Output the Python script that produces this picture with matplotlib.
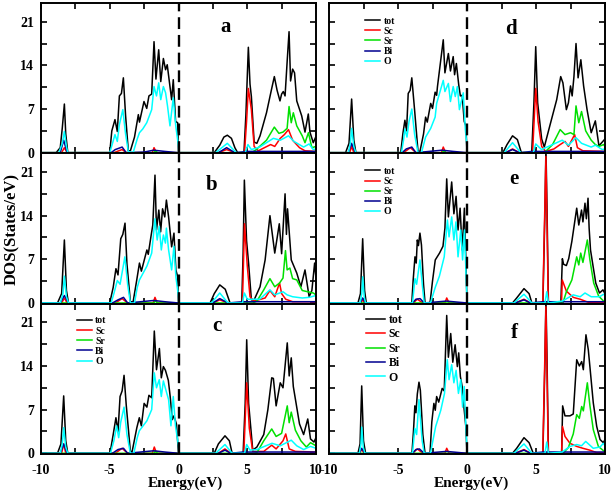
import numpy as np
import matplotlib.pyplot as plt
from matplotlib.ticker import MultipleLocator

# partial DOS, (energy eV, states/eV) pairs
species = ["tot", "Sc", "Sr", "Bi", "O"]

a_tot = [(-10, 0), (-8.9, 0), (-8.6, 0.8), (-8.45, 4), (-8.3, 7.8), (-8.2, 3), (-8.05, 0), (-5.0, 0), (-4.85, 3.5),
         (-4.62, 5.3), (-4.45, 3.4), (-4.3, 9.1), (-4.15, 9.5), (-4.01, 12.0), (-3.85, 6), (-3.65, 0.3), (-3.5, 0.3),
         (-3.2, 2.5), (-2.92, 6.1), (-2.84, 4.9), (-2.51, 8.2), (-2.31, 7.1), (-2.15, 9.1), (-1.95, 9.4), (-1.78, 17.8),
         (-1.64, 11.8), (-1.44, 16.5), (-1.29, 11.4), (-1.1, 15.1), (-0.94, 13.3), (-0.82, 14.1), (-0.62, 10.6),
         (-0.5, 8.5), (-0.38, 11.7), (-0.21, 5.0), (-0.06, 4.8), (0, 0), (2.6, 0), (3.0, 1.2), (3.3, 2.5), (3.55, 2.8),
         (3.85, 2.3), (4.1, 0.8), (4.3, 0), (4.76, 0), (4.9, 6), (5.08, 16.9), (5.2, 11), (5.3, 9), (5.5, 1.7),
         (5.7, 1.5), (5.93, 2.7), (6.4, 6.4), (6.75, 10), (6.97, 12.2), (7.17, 10), (7.38, 8.3), (7.5, 9.4),
         (7.62, 9.8), (7.75, 9.1), (7.91, 14.9), (8.04, 19.4), (8.15, 11.5), (8.3, 13.4), (8.44, 12.8), (8.6, 8.3),
         (8.96, 5.9), (9.2, 3.3), (9.44, 6.2), (9.56, 3.3), (9.8, 1.6), (10, 2.6)]
a_sc = [(-10, 0), (-8.5, 0), (-8.3, 0.8), (-8.1, 0), (-4.7, 0), (-4.1, 0.5), (-3.8, 0), (-1.9, 0), (-1.78, 0.8),
        (-1.6, 0), (2.9, 0), (3.5, 0.5), (4.1, 0), (4.8, 0), (4.95, 5), (5.08, 10.3), (5.3, 6.9), (5.5, 1.0),
        (5.8, 0.3), (6.7, 1.3), (7.0, 1.0), (7.4, 2.3), (7.7, 2.9), (8.0, 3.7), (8.3, 2.0), (8.8, 0.8), (9.2, 0.3),
        (10, 0.2)]
a_sr = [(-10, 0), (-1.8, 0), (-1.7, 0.3), (-1.5, 0), (5.3, 0), (5.6, 0.4), (6.0, 1.2), (6.4, 2.0), (6.97, 4.1),
        (7.3, 3.1), (7.6, 3.3), (7.9, 3.9), (8.04, 7.4), (8.2, 4.8), (8.35, 6.4), (8.6, 4.3), (9.0, 2.7), (9.2, 1.6),
        (9.45, 3.2), (9.7, 0.8), (10, 1.0)]
a_bi = [(-10, 0), (-8.6, 0), (-8.35, 2.0), (-8.1, 0), (-4.9, 0), (-4.6, 0.5), (-4.1, 0.9), (-3.8, 0), (-2.5, 0.1),
        (-1.8, 0.4), (-1.0, 0.2), (0, 0), (2.9, 0), (3.5, 0.8), (4.1, 0), (5.0, 0.2), (10, 0.2)]
a_o = [(-10, 0), (-8.7, 0), (-8.45, 1.5), (-8.3, 3.4), (-8.15, 1), (-8.05, 0), (-5.0, 0), (-4.8, 1.5), (-4.62, 2.9),
       (-4.45, 1.8), (-4.3, 4.5), (-4.05, 6.9), (-3.85, 3), (-3.65, 0.2), (-3.3, 0), (-3.0, 2.2), (-2.84, 3.2),
       (-2.6, 3.8), (-2.31, 4.8), (-1.95, 6.9), (-1.78, 10.6), (-1.6, 9.1), (-1.44, 11.2), (-1.29, 8.5), (-1.1, 10.6),
       (-0.94, 9.6), (-0.8, 7.5), (-0.62, 4.3), (-0.38, 8.8), (-0.2, 4.3), (0, 1.0), (0.02, 0), (2.7, 0), (3.55, 1.5),
       (4.2, 0), (4.85, 0), (5.05, 1.3), (5.3, 0.5), (5.9, 0.9), (6.9, 2.3), (7.4, 2.0), (8.0, 2.7), (8.4, 1.8),
       (9.1, 0.9), (9.5, 1.4), (9.8, 0.5), (10, 0.6)]

b_tot = [(-10, 0), (-8.8, 0), (-8.5, 1.5), (-8.3, 10.1), (-8.15, 2), (-8.0, 0), (-5.0, 0), (-4.75, 2.5), (-4.55, 5.5),
         (-4.4, 4.5), (-4.2, 10.3), (-4.05, 11), (-3.89, 12.8), (-3.75, 6.3), (-3.5, 0.2), (-3.3, 0.2), (-3.05, 3.5),
         (-2.84, 6.4), (-2.7, 5.1), (-2.3, 8.5), (-2.2, 7.8), (-2.0, 10.7), (-1.87, 12.5), (-1.71, 20.5), (-1.6, 11.7),
         (-1.43, 14.9), (-1.3, 11.4), (-1.16, 15.1), (-1.0, 13.8), (-0.88, 16.5), (-0.72, 13.8), (-0.5, 9.0),
         (-0.33, 11.2), (-0.19, 5.3), (-0.06, 4.2), (0, 0), (2.3, 0), (2.6, 1.5), (3.0, 2.9), (3.4, 2.2), (3.75, 0),
         (4.6, 0), (4.7, 8), (4.79, 19.7), (4.95, 10), (5.1, 6.3), (5.3, 0.5), (5.5, 0.5), (5.93, 2.6), (6.3, 6.9),
         (6.65, 14.0), (7.0, 8.0), (7.15, 10.1), (7.33, 12.7), (7.5, 7.9), (7.75, 17.5), (7.85, 11), (7.93, 15.1),
         (8.2, 6.9), (8.6, 4.8), (8.9, 2.6), (9.2, 5.3), (9.5, 1.0), (9.7, 2.0), (9.9, 6.4), (10, 4)]
b_sc = [(-10, 0), (-8.5, 0), (-8.3, 0.8), (-8.1, 0), (-4.6, 0), (-4.1, 0.7), (-3.7, 0), (-1.85, 0), (-1.71, 0.9),
        (-1.55, 0), (2.5, 0), (3.0, 0.5), (3.6, 0), (4.65, 0), (4.8, 12.7), (5.0, 6), (5.2, 1.0), (5.5, 0.3),
        (6.3, 0.8), (6.65, 2.0), (7.0, 1.0), (7.35, 3.2), (7.5, 1.5), (7.8, 0.6), (8.3, 0.2), (10, 0.2)]
b_sr = [(-10, 0), (-1.8, 0), (-1.7, 0.3), (-1.5, 0), (5.4, 0), (5.7, 0.3), (6.2, 2.1), (6.65, 3.9), (7.0, 2.6),
        (7.35, 3.2), (7.6, 4), (7.78, 8.4), (7.9, 5.3), (8.1, 5.6), (8.3, 3.9), (8.6, 3.7), (9.0, 2.0), (9.4, 1.8),
        (9.8, 1.6), (10, 1.3)]
b_bi = [(-10, 0), (-8.6, 0), (-8.3, 1.2), (-8.0, 0), (-4.8, 0), (-4.4, 0.5), (-4.0, 0.9), (-3.7, 0), (-1.8, 0.4),
        (-1.0, 0.2), (0, 0), (2.5, 0), (3.0, 0.7), (3.6, 0), (4.7, 0.2), (10, 0.2)]
b_o = [(-10, 0), (-8.6, 0), (-8.4, 1.5), (-8.3, 4.3), (-8.15, 1), (-8.0, 0), (-4.9, 0), (-4.7, 1.5), (-4.45, 3.6),
       (-4.25, 3), (-3.9, 7.4), (-3.7, 3), (-3.5, 0), (-3.2, 0), (-3.0, 2.5), (-2.84, 3.7), (-2.3, 5.9), (-1.95, 8.0),
       (-1.71, 13.5), (-1.55, 10.1), (-1.4, 12.3), (-1.25, 8.5), (-1.1, 10.9), (-0.95, 9.6), (-0.88, 12.0),
       (-0.72, 8.5), (-0.5, 5.3), (-0.33, 9.1), (-0.19, 4.2), (0, 1.0), (0.02, 0), (2.4, 0), (3.0, 1.6), (3.6, 0),
       (4.65, 0), (4.79, 1.6), (5.0, 0.6), (5.9, 0.6), (6.65, 2.1), (7.0, 1.3), (7.6, 1.8), (7.9, 1.3), (8.3, 1.0),
       (9.0, 0.8), (9.5, 0.9), (10, 1.2)]

c_tot = [(-10, 0), (-8.8, 0), (-8.55, 1.5), (-8.35, 9.2), (-8.2, 2), (-8.05, 0), (-4.98, 0), (-4.75, 3), (-4.55, 5.7),
         (-4.4, 3.5), (-4.25, 9.1), (-4.1, 10), (-3.96, 12.5), (-3.8, 7.7), (-3.5, 0.3), (-3.37, 0.3), (-3.03, 4.1),
         (-2.85, 5.7), (-2.7, 4.4), (-2.5, 8.0), (-2.3, 7.4), (-2.15, 9.3), (-1.95, 8.9), (-1.76, 19.6), (-1.6, 13.4),
         (-1.39, 16.8), (-1.25, 12.1), (-1.1, 13.9), (-0.95, 13.3), (-0.74, 11.7), (-0.6, 9.0), (-0.45, 5.4),
         (-0.33, 6.0), (-0.15, 4.7), (0, 0), (2.6, 0), (2.9, 1.5), (3.38, 2.8), (3.7, 2.0), (3.9, 0), (4.7, 0),
         (4.85, 8), (4.96, 18.2), (5.1, 8), (5.4, 0.5), (5.7, 1.0), (6.2, 3.0), (6.5, 7.0), (6.78, 12.1), (6.9, 12.0),
         (7.1, 7.6), (7.4, 11.3), (7.6, 10.5), (7.91, 17.7), (8.05, 12.4), (8.2, 15.3), (8.35, 10.7), (8.8, 4.7),
         (9.1, 3.0), (9.4, 5.5), (9.6, 2.3), (9.85, 1.8), (10, 2.5)]
c_sc = [(-10, 0), (-8.5, 0), (-8.35, 1.5), (-8.2, 0), (-4.6, 0), (-4.1, 0.8), (-3.7, 0), (-1.9, 0), (-1.76, 1.0),
        (-1.6, 0), (2.9, 0), (3.38, 0.7), (3.8, 0), (4.75, 0), (4.96, 11.3), (5.15, 4), (5.4, 0.3), (6.2, 0.3),
        (6.78, 1.3), (7.1, 0.7), (7.6, 2.0), (7.8, 3.1), (8.05, 0.7), (8.5, 0.3), (10, 0.2)]
c_sr = [(-10, 0), (-1.8, 0), (-1.7, 0.3), (-1.5, 0), (5.5, 0), (5.7, 0.1), (6.2, 2.0), (6.78, 3.9), (7.1, 2.7),
        (7.5, 3.2), (7.91, 7.6), (8.05, 4.9), (8.2, 6.6), (8.5, 3.7), (8.9, 2.0), (9.3, 1.0), (9.6, 1.7), (10, 1.2)]
c_bi = [(-10, 0), (-8.6, 0), (-8.35, 1.5), (-8.1, 0), (-4.8, 0), (-4.4, 0.6), (-4.0, 0.8), (-3.7, 0), (-1.8, 0.4),
        (-1.0, 0.2), (0, 0), (2.9, 0), (3.38, 0.5), (3.8, 0), (4.7, 0.2), (10, 0.2)]
c_o = [(-10, 0), (-8.6, 0), (-8.45, 1.5), (-8.35, 4.1), (-8.2, 1), (-8.05, 0), (-4.95, 0), (-4.7, 2), (-4.5, 4.4),
       (-4.35, 2.5), (-4.2, 5), (-3.96, 7.4), (-3.75, 3), (-3.5, 0), (-3.25, 0), (-3.0, 2.5), (-2.85, 3.6),
       (-2.3, 5.2), (-1.95, 7.0), (-1.76, 12.9), (-1.6, 10.5), (-1.4, 11.8), (-1.25, 9.1), (-1.1, 11.6), (-0.9, 10.0),
       (-0.72, 8.6), (-0.55, 4.4), (-0.38, 9.1), (-0.22, 4.4), (0, 1.2), (0.02, 0), (2.7, 0), (3.38, 1.4), (3.9, 0),
       (4.8, 0), (4.96, 1.4), (5.2, 0.5), (5.7, 0.6), (6.8, 1.6), (7.4, 1.2), (8.2, 2.1), (8.6, 1.2), (9.1, 0.6),
       (9.6, 1.1), (10, 0.8)]

d_tot = [(-10, 0), (-8.8, 0), (-8.55, 1.5), (-8.36, 8.6), (-8.2, 2), (-8.05, 0), (-4.8, 0), (-4.65, 3), (-4.5, 5.2),
         (-4.38, 3.5), (-4.26, 9.5), (-4.12, 10), (-4.0, 12.0), (-3.8, 6.9), (-3.55, 0.2), (-3.41, 0.2), (-3.15, 3),
         (-3.0, 5.7), (-2.88, 4.9), (-2.63, 7.9), (-2.5, 7.1), (-2.31, 9.7), (-2.2, 9.2), (-2.14, 10.6), (-1.72, 18.1),
         (-1.6, 12.8), (-1.35, 15.9), (-1.2, 13.1), (-1.0, 15.4), (-0.9, 12.5), (-0.77, 14.3), (-0.6, 10.9),
         (-0.48, 9.1), (-0.35, 9.2), (-0.2, 5.0), (-0.08, 4.3), (0, 0), (2.6, 0), (2.9, 1.3), (3.3, 2.7), (3.65, 2.1),
         (3.94, 0), (4.69, 0), (4.85, 8), (4.98, 17.0), (5.12, 8.0), (5.41, 2.2), (5.6, 0.9), (6.0, 4.3), (6.5, 8.5),
         (6.79, 12.2), (6.95, 11.2), (7.2, 6.9), (7.35, 8.0), (7.5, 10.7), (7.62, 9.1), (7.75, 12.2), (7.9, 17.5),
         (8.05, 12), (8.25, 14.9), (8.45, 10.7), (8.7, 6.9), (9.0, 3.2), (9.3, 5.1), (9.56, 1.1), (9.8, 1.7),
         (10, 2.2)]
d_sc = [(-10, 0), (-8.5, 0), (-8.36, 1.0), (-8.2, 0), (-4.6, 0), (-4.1, 0.8), (-3.7, 0), (-1.85, 0), (-1.72, 0.9),
        (-1.55, 0), (2.8, 0), (3.3, 0.6), (3.8, 0), (4.75, 0), (4.98, 10.3), (5.15, 5), (5.41, 1.0), (5.7, 0.2),
        (6.3, 0.6), (6.75, 1.3), (7.1, 1.8), (7.35, 1.0), (7.8, 2.9), (8.0, 0.8), (8.4, 0.3), (10, 0.2)]
d_sr = [(-10, 0), (-1.8, 0), (-1.7, 0.3), (-1.5, 0), (5.5, 0), (5.7, 0.2), (6.2, 1.3), (6.75, 3.7), (7.1, 2.9),
        (7.5, 3.2), (7.75, 2.9), (7.9, 7.5), (8.1, 4.8), (8.3, 6.6), (8.6, 3.5), (9.0, 2.0), (9.3, 1.3), (9.56, 1.0),
        (9.9, 1.3), (10, 1.0)]
d_bi = [(-10, 0), (-8.6, 0), (-8.36, 1.5), (-8.1, 0), (-4.7, 0), (-4.4, 0.6), (-4.0, 0.9), (-3.7, 0), (-1.8, 0.4),
        (-1.0, 0.2), (0, 0), (2.8, 0), (3.3, 0.5), (3.8, 0), (4.7, 0.2), (10, 0.2)]
d_o = [(-10, 0), (-8.6, 0), (-8.45, 1.5), (-8.36, 3.9), (-8.2, 1), (-8.05, 0), (-4.75, 0), (-4.6, 2), (-4.5, 3.8),
       (-4.35, 2.5), (-4.2, 5), (-4.0, 7.0), (-3.8, 3), (-3.55, 0), (-3.3, 0), (-3.0, 2.5), (-2.63, 3.9),
       (-2.31, 5.7), (-2.2, 7.9), (-1.72, 11.6), (-1.6, 9.8), (-1.35, 11.1), (-1.2, 8.2), (-1.0, 10.6), (-0.85, 9.0),
       (-0.7, 10.6), (-0.55, 6.9), (-0.27, 9.6), (-0.12, 3.7), (0, 1.0), (0.02, 0), (2.7, 0), (3.3, 1.6), (3.9, 0),
       (4.8, 0), (4.98, 1.4), (5.4, 0.5), (6.5, 1.6), (6.9, 2.0), (7.35, 1.2), (7.9, 2.4), (8.3, 1.5), (9.0, 0.9),
       (9.3, 1.2), (9.8, 0.5), (10, 0.6)]

e_tot = [(-10, 0), (-7.9, 0), (-7.72, 1.5), (-7.56, 10.3), (-7.42, 2), (-7.3, 0), (-4.0, 0), (-3.9, 3.7),
         (-3.77, 7.4), (-3.68, 6.4), (-3.6, 10.1), (-3.52, 9.2), (-3.41, 11.2), (-3.3, 9.3), (-3.15, 3), (-3.04, 0),
         (-2.68, 0), (-2.5, 3.5), (-2.3, 6.9), (-1.99, 8.0), (-1.74, 9.1), (-1.6, 12), (-1.47, 19.9), (-1.35, 13.8),
         (-1.11, 19.4), (-0.95, 14.3), (-0.79, 17.1), (-0.65, 11.7), (-0.5, 15.2), (-0.35, 8.5), (-0.19, 15.2),
         (-0.08, 6.9), (0, 0), (3.3, 0), (3.6, 0.8), (4.13, 2.3), (4.5, 1.5), (4.7, 0), (5.5, 0), (5.65, 15),
         (5.72, 25), (5.8, 15), (5.9, 0), (6.8, 0), (6.91, 7.1), (7.0, 6.2), (7.2, 6.0), (7.37, 7.1), (7.6, 9.9),
         (7.95, 15.2), (8.1, 12.5), (8.3, 14.9), (8.4, 13), (8.55, 16.0), (8.65, 13.5), (8.77, 16.8), (8.85, 12),
         (8.95, 8.5), (9.1, 6.4), (9.33, 3.2), (9.6, 1.6), (9.85, 2.1), (10, 1.5)]
e_sc = [(-10, 0), (-7.7, 0), (-7.56, 0.5), (-7.4, 0), (-3.9, 0), (-3.6, 0.6), (-3.2, 0), (-1.6, 0), (-1.47, 0.8),
        (-1.3, 0), (3.5, 0), (4.13, 0.6), (4.6, 0), (5.49, 0), (5.72, 23.5), (5.89, 0), (6.85, 0), (6.9, 3.7),
        (7.2, 1.9), (7.7, 0.9), (8.2, 0.6), (8.8, 0.1), (10, 0.1)]
e_sr = [(-10, 0), (6.95, 0), (7.2, 1.8), (7.6, 3.7), (7.95, 7.4), (8.1, 6.1), (8.24, 8.0), (8.4, 6.5), (8.72, 10.1),
        (8.9, 7.0), (9.18, 3.2), (9.54, 1.1), (9.9, 0.3), (10, 0.3)]
e_bi = [(-10, 0), (-7.75, 0), (-7.56, 0.8), (-7.35, 0), (-3.95, 0), (-3.7, 0.6), (-3.4, 0.7), (-3.1, 0), (-1.5, 0.3),
        (-1.0, 0.2), (0, 0), (3.5, 0), (4.13, 0.5), (4.6, 0), (5.5, 0.2), (10, 0.2)]
e_o = [(-10, 0), (-7.75, 0), (-7.62, 1.5), (-7.56, 4.2), (-7.45, 1), (-7.35, 0), (-3.95, 0), (-3.77, 3.9),
       (-3.65, 3), (-3.41, 6.9), (-3.2, 2), (-3.1, 0), (-2.65, 0), (-2.3, 2.5), (-2.0, 4.3), (-1.65, 7.4),
       (-1.42, 13.3), (-1.3, 10.6), (-1.11, 13.8), (-0.95, 10.1), (-0.8, 13.0), (-0.65, 7.4), (-0.45, 11.7),
       (-0.32, 6.9), (-0.18, 11.7), (-0.05, 3.2), (0, 0.5), (0.02, 0), (3.4, 0), (4.13, 1.4), (4.7, 0), (5.65, 0),
       (5.78, 1.8), (5.9, 0), (6.9, 0.3), (7.7, 1.3), (8.2, 1.0), (8.55, 1.6), (9.0, 1.0), (9.6, 1.0), (9.9, 1.4),
       (10, 1.2)]

f_tot = [(-10, 0), (-7.9, 0), (-7.75, 1.5), (-7.63, 10.8), (-7.5, 2), (-7.35, 0), (-3.99, 0), (-3.88, 3.5),
         (-3.78, 7.6), (-3.7, 6.5), (-3.6, 9.5), (-3.48, 11.4), (-3.38, 10.1), (-3.2, 3), (-3.04, 0), (-2.68, 0),
         (-2.55, 5), (-2.4, 8.0), (-2.3, 6.9), (-2.2, 9.1), (-2.05, 8.2), (-1.8, 10.4), (-1.65, 10.0), (-1.47, 22.1),
         (-1.35, 15.4), (-1.18, 19.2), (-1.03, 14.6), (-0.86, 17.4), (-0.7, 13.9), (-0.6, 16.1), (-0.48, 12.3),
         (-0.35, 10.7), (-0.2, 6.9), (-0.08, 4.2), (0, 0), (3.3, 0), (3.6, 0.8), (4.13, 2.5), (4.5, 1.7), (4.8, 0),
         (5.5, 0), (5.65, 15), (5.72, 25), (5.8, 15), (5.9, 0), (6.86, 0), (6.93, 7.6), (7.1, 6.0), (7.46, 6.0),
         (7.7, 6.3), (7.95, 15.0), (8.14, 14.0), (8.31, 14.7), (8.43, 13.4), (8.62, 19.0), (8.79, 16.6),
         (8.91, 13.8), (9.15, 8.1), (9.4, 4.3), (9.64, 2.2), (9.88, 1.7), (10, 2.2)]
f_sc = [(-10, 0), (-7.8, 0), (-7.63, 0.6), (-7.45, 0), (-3.95, 0), (-3.6, 0.7), (-3.2, 0), (-1.6, 0), (-1.47, 0.8),
        (-1.3, 0), (3.5, 0), (4.13, 0.6), (4.6, 0), (5.49, 0), (5.72, 23.5), (5.89, 0), (6.85, 0), (6.92, 4.3),
        (7.1, 2.7), (7.46, 1.6), (7.95, 1.1), (8.4, 0.8), (8.9, 0.5), (9.4, 0.1), (10, 0.1)]
f_sr = [(-10, 0), (6.95, 0), (7.34, 0.9), (7.7, 3.1), (7.95, 6.2), (8.14, 5.6), (8.31, 7.5), (8.43, 6.8),
        (8.72, 11.3), (8.91, 7.6), (9.15, 3.8), (9.52, 1.1), (9.95, 0.3), (10, 0.3)]
f_bi = [(-10, 0), (-7.8, 0), (-7.63, 0.8), (-7.4, 0), (-3.95, 0), (-3.7, 0.6), (-3.45, 0.7), (-3.1, 0), (-1.5, 0.3),
        (-1.0, 0.2), (0, 0), (3.5, 0), (4.13, 0.5), (4.6, 0), (5.5, 0.2), (10, 0.2)]
f_o = [(-10, 0), (-7.8, 0), (-7.68, 1.5), (-7.63, 4.2), (-7.52, 1), (-7.4, 0), (-3.95, 0), (-3.78, 4.0),
       (-3.65, 3), (-3.48, 8.6), (-3.25, 2), (-3.1, 0), (-2.65, 0), (-2.27, 4.3), (-1.9, 6.9), (-1.63, 9.6),
       (-1.43, 15.0), (-1.3, 11.8), (-1.11, 14.2), (-0.95, 11.3), (-0.79, 13.3), (-0.62, 9.6), (-0.45, 11.8),
       (-0.32, 7.4), (-0.2, 10.7), (-0.08, 4.2), (0, 0.5), (0.02, 0), (3.4, 0), (4.13, 1.5), (4.7, 0), (5.65, 0),
       (5.78, 1.8), (5.9, 0), (6.9, 0.2), (7.46, 1.1), (7.95, 1.4), (8.3, 1.2), (8.6, 1.9), (9.15, 0.8), (9.64, 1.0),
       (9.88, 1.6), (10, 1.2)]

panels = {
    "a": [a_tot, a_sc, a_sr, a_bi, a_o],
    "b": [b_tot, b_sc, b_sr, b_bi, b_o],
    "c": [c_tot, c_sc, c_sr, c_bi, c_o],
    "d": [d_tot, d_sc, d_sr, d_bi, d_o],
    "e": [e_tot, e_sc, e_sr, e_bi, e_o],
    "f": [f_tot, f_sc, f_sr, f_bi, f_o],
}

colors = ["black", "#ff0000", "#00e000", "#000090", "#00ffff"]

plt.rcParams["font.family"] = "Liberation Serif"
plt.rcParams["font.weight"] = "bold"
plt.rcParams["axes.unicode_minus"] = False

W, H = 614.0, 493.0
fig = plt.figure(figsize=(W / 100, H / 100), dpi=100)

col_x = [(41, 275), (329, 276)]   # left px, width px
row_top = [3, 153.3, 303.6]
row_h = 150.3
layout = [["a", "b", "c"], ["d", "e", "f"]]
letter_pos = {"a": (3.4, 20.2), "b": (2.4, 18.9), "c": (2.8, 20.4),
              "d": (3.2, 19.8), "e": (3.4, 19.9), "f": (3.4, 19.3)}
# legend: (x axes-frac, y axes-frac, fontsize, labelspacing)
legend_pos = {"c": (0.13, 0.915, 7, 0.12), "d": (0.13, 0.91, 7, 0.12),
              "e": (0.13, 0.91, 7, 0.12), "f": (0.135, 0.93, 8.5, 0.2)}

for ci, col in enumerate(layout):
    x0, w = col_x[ci]
    for ri, name in enumerate(col):
        ax = fig.add_axes([x0 / W, 1 - (row_top[ri] + row_h) / H, w / W, row_h / H])
        handles = []
        for lab, c, pts in zip(species, colors, panels[name]):
            arr = np.array(pts)
            h, = ax.plot(arr[:, 0], arr[:, 1], color=c, lw=1.1, label=lab)
            handles.append(h)
        ax.axvline(0, color="k", lw=1.7, ls=(0, (5, 2.5)))
        ax.set_xlim(-10, 10)
        ax.set_ylim(-0.1, 24)
        ax.xaxis.set_major_locator(MultipleLocator(5))
        ax.xaxis.set_minor_locator(MultipleLocator(2.5))
        ax.yaxis.set_major_locator(MultipleLocator(7))
        ax.yaxis.set_minor_locator(MultipleLocator(3.5))
        ax.tick_params(which="both", direction="in", top=True, right=True,
                       length=4, width=1.2, labelsize=10)
        ax.tick_params(axis="x", pad=7)
        ax.tick_params(axis="y", pad=5)
        ax.tick_params(labelleft=(ci == 0), labelbottom=(ri == 2))
        for sp in ax.spines.values():
            sp.set_linewidth(1.4)
        lx, ly = letter_pos[name]
        ax.text(lx, ly, name, fontsize=15, ha="center", va="center")
        if name in legend_pos:
            bx, by, fs, ls = legend_pos[name]
            ax.legend(handles, species, loc="upper left", bbox_to_anchor=(bx, by),
                      frameon=False, fontsize=fs, handlelength=1.6, handletextpad=0.3,
                      labelspacing=ls, borderpad=0, borderaxespad=0)

fig.text(12 / W, 1 - 229 / H, "DOS(States/eV)", rotation=90, fontsize=12, ha="center", va="center")
fig.text(185 / W, 1 - 483 / H, "Energy(eV)", fontsize=11, ha="center", va="center")
fig.text(471 / W, 1 - 483 / H, "Energy(eV)", fontsize=11, ha="center", va="center")

fig.savefig("out.png", dpi=100)
